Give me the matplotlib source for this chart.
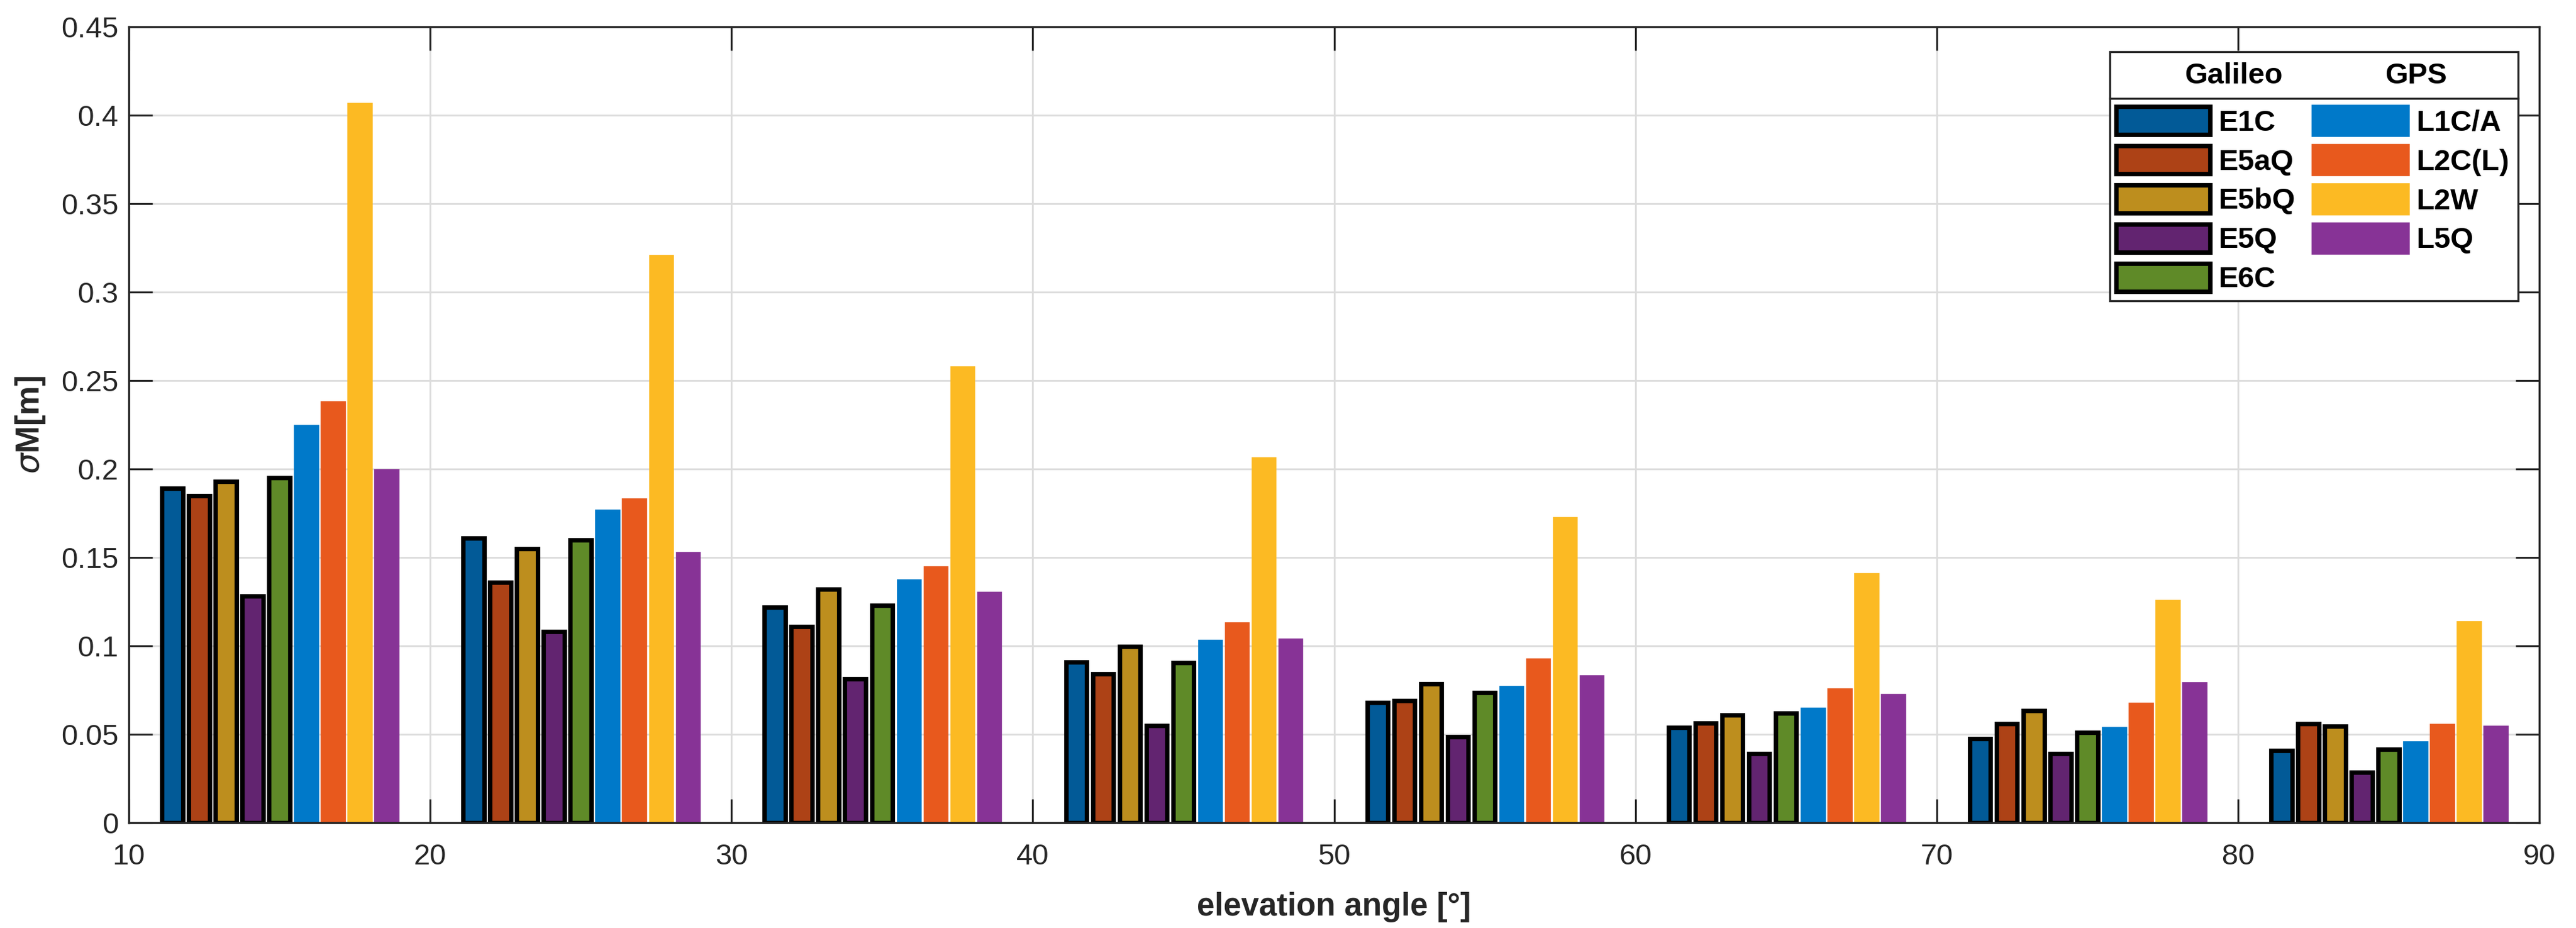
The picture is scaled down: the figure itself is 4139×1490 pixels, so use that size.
import matplotlib
matplotlib.use('Agg')
import matplotlib.pyplot as plt
from matplotlib.patches import Rectangle
from matplotlib.lines import Line2D
from matplotlib.ticker import FuncFormatter
import numpy as np

plt.rcParams['font.family'] = ['Liberation Sans', 'DejaVu Sans']
plt.rcParams['mathtext.fontset'] = 'dejavusans'

# ---- data ----
elevation = [15, 25, 35, 45, 55, 65, 75, 85]
galileo_labels = ['E1C', 'E5aQ', 'E5bQ', 'E5Q', 'E6C']
gps_labels = ['L1C/A', 'L2C(L)', 'L2W', 'L5Q']

E1C = [0.189, 0.161, 0.122, 0.091, 0.068, 0.054, 0.0475, 0.041]
E5aQ = [0.185, 0.136, 0.111, 0.084, 0.069, 0.0565, 0.056, 0.056]
E5bQ = [0.193, 0.155, 0.132, 0.0995, 0.0785, 0.061, 0.0635, 0.0545]
E5Q = [0.128, 0.108, 0.0815, 0.055, 0.0485, 0.039, 0.039, 0.0285]
E6C = [0.195, 0.160, 0.123, 0.0905, 0.0735, 0.062, 0.051, 0.0415]
L1CA = [0.224, 0.176, 0.1365, 0.1025, 0.0765, 0.064, 0.053, 0.045]
L2CL = [0.2375, 0.1825, 0.144, 0.1125, 0.092, 0.075, 0.067, 0.055]
L2W = [0.406, 0.320, 0.257, 0.2055, 0.172, 0.140, 0.125, 0.113]
L5Q = [0.199, 0.152, 0.1295, 0.103, 0.0825, 0.072, 0.0785, 0.054]

galileo_values = [E1C, E5aQ, E5bQ, E5Q, E6C]
gps_values = [L1CA, L2CL, L2W, L5Q]
galileo_colors = ['#025a97', '#ad4216', '#bd8e1e', '#622470', '#5f8a28']
gps_colors = ['#0079c9', '#e8591d', '#fcba23', '#873396']

xticks = [10, 20, 30, 40, 50, 60, 70, 80, 90]
yticks = [0, 0.05, 0.1, 0.15, 0.2, 0.25, 0.3, 0.35, 0.4, 0.45]

# ---- figure ----
W, H, dpi = 4139, 1490, 200
fig = plt.figure(figsize=(W / dpi, H / dpi), dpi=dpi)
ax = fig.add_axes([207 / W, 1 - 1321 / H, (4080 - 207) / W, (1321 - 43) / H])

nb = len(galileo_values) + len(gps_values)
step = 8 / nb
bw = 0.78 * step
handles = []
i = 0
for lab, vals, col in zip(galileo_labels, galileo_values, galileo_colors):
    x = np.array(elevation) + (i - (nb - 1) / 2) * step
    b = ax.bar(x, vals, width=bw, color=col, edgecolor='black', linewidth=2.6,
               label=lab, zorder=2)
    handles.append(b)
    i += 1
for lab, vals, col in zip(gps_labels, gps_values, gps_colors):
    x = np.array(elevation) + (i - (nb - 1) / 2) * step
    b = ax.bar(x, vals, width=bw, color=col, edgecolor=col, linewidth=2.4,
               label=lab, zorder=2)
    handles.append(b)
    i += 1

ax.set_xlim(10, 90)
ax.set_ylim(0, 0.45)
ax.set_xticks(xticks)
ax.set_yticks(yticks)
ax.yaxis.set_major_formatter(FuncFormatter(lambda v, p: f'{v:g}'))
ax.grid(True, color='#dcdcdc', linewidth=1.0)
ax.set_axisbelow(True)
ax.tick_params(direction='in', length=13.7, width=1.1, color='#262626',
               labelsize=17, labelcolor='#262626', top=True, right=True)
ax.tick_params(axis='x', pad=12)
ax.tick_params(axis='y', pad=6)
for s in ax.spines.values():
    s.set_color('#262626')
    s.set_linewidth(1.2)

ax.set_xlabel('elevation angle [°]', fontsize=18.5, fontweight='bold',
              color='#262626', labelpad=12)
ax.set_ylabel(r'$\sigma$M[m]', fontsize=19, fontweight='bold',
              color='#262626', labelpad=8)

# ---- legend ----
leg = ax.legend(handles=handles, ncol=2, loc='upper left',
                bbox_to_anchor=(3400 / W, 1 - 171 / H),
                bbox_transform=fig.transFigure, frameon=False,
                prop={'weight': 'bold', 'size': 17},
                handlelength=3.2, handleheight=1.1, handletextpad=0.3,
                columnspacing=0.6, labelspacing=0.3, borderpad=0,
                borderaxespad=0)
leg.set_zorder(5)
box = Rectangle((3390 / W, 1 - 483 / H), (4046 - 3390) / W, (483 - 83) / H,
                transform=fig.transFigure, facecolor='white',
                edgecolor='#262626', linewidth=1.2, zorder=4.5, clip_on=False)
ax.add_patch(box)
div = Line2D([3390 / W, 4046 / W], [1 - 158 / H, 1 - 158 / H],
             transform=fig.transFigure, color='#262626', linewidth=1.2,
             zorder=4.6, clip_on=False)
ax.add_line(div)
fig.text(3589 / W, 1 - 122 / H, 'Galileo', ha='center', va='center',
         fontsize=17, fontweight='bold', zorder=6)
fig.text(3882 / W, 1 - 122 / H, 'GPS', ha='center', va='center',
         fontsize=17, fontweight='bold', zorder=6)

fig.savefig('out.png', dpi=dpi, facecolor='white')
